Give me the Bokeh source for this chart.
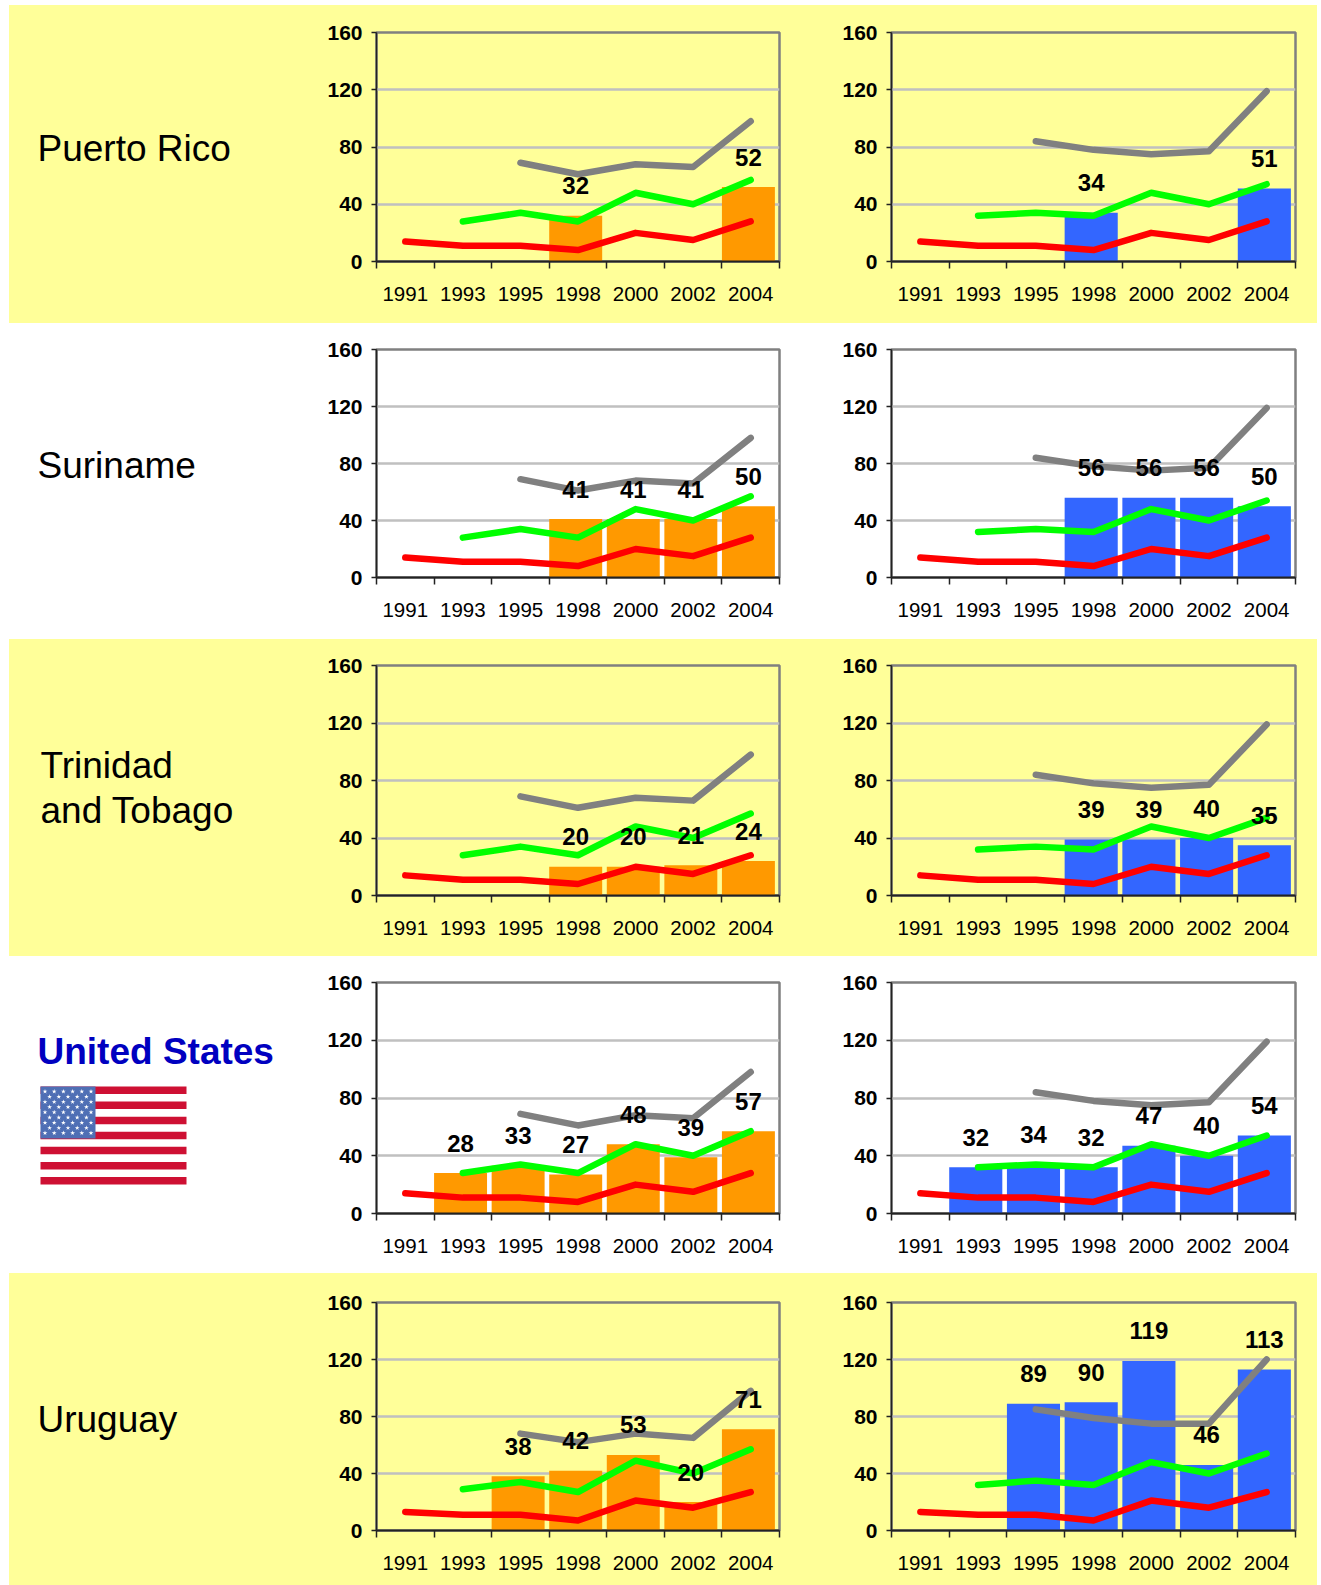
from bokeh.plotting import figure
from bokeh.layouts import column, row
from bokeh.models import Range1d, FixedTicker
from bokeh.core.properties import value
from bokeh.embed import file_html
from bokeh.resources import INLINE

years = ["1991", "1993", "1995", "1998", "2000", "2002", "2004"]
countries = ["Puerto Rico", "Suriname", "Trinidad\nand Tobago", "United States", "Uruguay"]

left_bars = [
    [None, None, None, 32, None, None, 52],
    [None, None, None, 41, 41, 41, 50],
    [None, None, None, 20, 20, 21, 24],
    [None, 28, 33, 27, 48, 39, 57],
    [None, None, 38, 42, 53, 20, 71],
]
right_bars = [
    [None, None, None, 34, None, None, 51],
    [None, None, None, 56, 56, 56, 50],
    [None, None, None, 39, 39, 40, 35],
    [None, 32, 34, 32, 47, 40, 54],
    [None, None, 89, 90, 119, 46, 113],
]

red = [14, 11, 11, 8, 20, 15, 28]
green_l = [None, 28, 34, 28, 48, 40, 57]
gray_l = [None, None, 69, 61, 68, 66, 98]
green_r = [None, 32, 34, 32, 48, 40, 54]
gray_r = [None, None, 84, 78, 75, 77, 119]

red_u = [13, 11, 11, 7, 21, 16, 27]
green_lu = [None, 29, 34, 27, 49, 40, 57]
gray_lu = [None, None, 68, 62, 68, 65, 98]
green_ru = [None, 32, 35, 32, 48, 40, 54]
gray_ru = [None, None, 85, 79, 75, 75, 120]

YELLOW = "#FFFF99"
band_edges = [5, 323, 639, 956, 1273, 1585]
frame_tops = [32, 349, 665, 982, 1302]
frame_bots = [261, 577, 895, 1213, 1530]
band_fill = [YELLOW, "white", YELLOW, "white", YELLOW]
LEFT0, SPLIT1, SPLIT2, RIGHT_END = 9, 300, 800, 1317
A_L, A_R = 376, 779
B_L, B_R = 891, 1295
FONT = "Liberation Sans"


def chart(i, x0, x1, fl, fr, bars, series, bar_color):
    top, bot = band_edges[i], band_edges[i + 1]
    p = figure(
        width=x1 - x0, height=bot - top, output_backend="svg", toolbar_location=None,
        x_range=Range1d(0, len(years)), y_range=Range1d(0, 160),
        min_border_left=fl - x0, min_border_right=x1 - fr,
        min_border_top=frame_tops[i] - top, min_border_bottom=bot - frame_bots[i],
        background_fill_alpha=0, border_fill_alpha=0,
        outline_line_color="#808080", outline_line_width=2.5,
    )
    xa, ya = p.xaxis[0], p.yaxis[0]
    centers = [k + 0.5 for k in range(len(years))]
    xa.ticker = FixedTicker(ticks=centers, minor_ticks=list(range(len(years) + 1)))
    xa.major_label_overrides = dict(zip(centers, years))
    xa.major_tick_out = 0
    xa.major_tick_in = 0
    xa.minor_tick_out = 7
    xa.minor_tick_in = 0
    xa.minor_tick_line_color = "#222222"
    xa.minor_tick_line_width = 1.5
    xa.major_label_standoff = 18
    xa.major_label_text_font = FONT
    xa.major_label_text_font_size = "20.5px"
    xa.major_label_text_color = "black"
    xa.axis_line_color = "#222222"
    xa.axis_line_width = 2

    ya.ticker = FixedTicker(ticks=[0, 40, 80, 120, 160], minor_ticks=[])
    ya.major_tick_out = 5
    ya.major_tick_in = 0
    ya.major_tick_line_color = "#222222"
    ya.major_tick_line_width = 1.5
    ya.major_label_standoff = 9
    ya.major_label_text_font = FONT
    ya.major_label_text_font_style = "bold"
    ya.major_label_text_font_size = "21px"
    ya.major_label_text_color = "black"
    ya.axis_line_color = "#222222"
    ya.axis_line_width = 1.5

    p.xgrid.visible = False
    p.ygrid.ticker = FixedTicker(ticks=[40, 80, 120])
    p.ygrid.grid_line_color = "#C0C0C0"
    p.ygrid.grid_line_width = 2.5

    bx = [k + 0.46 for k, v in enumerate(bars) if v is not None]
    bv = [v for v in bars if v is not None]
    p.vbar(x=bx, top=bv, bottom=0, width=0.92, fill_color=bar_color, line_color=None)

    for vals, col in series:
        lx = [k + 0.5 for k, v in enumerate(vals) if v is not None]
        ly = [v for v in vals if v is not None]
        p.line(lx, ly, line_color=col, line_width=6.5, line_cap="round", line_join="round")

    p.text(x=bx, y=bv, text=[str(v) for v in bv], y_offset=-30, text_align="center",
           text_baseline="middle", text_font=value(FONT), text_font_style="bold",
           text_font_size="24px", text_color="black")
    return p


def label_panel(i):
    # The row aligns this panel's frame with its neighbours, so it shares their borders.
    top, bot = band_edges[i], band_edges[i + 1]
    p = figure(
        width=SPLIT1 - LEFT0, height=bot - top, output_backend="svg", toolbar_location=None,
        x_range=Range1d(LEFT0, SPLIT1), y_range=Range1d(frame_bots[i], frame_tops[i]),
        x_axis_location=None, y_axis_location=None,
        min_border_left=0, min_border_right=0,
        min_border_top=frame_tops[i] - top, min_border_bottom=bot - frame_bots[i],
        background_fill_alpha=0, border_fill_alpha=0,
        outline_line_color=None,
    )
    p.grid.visible = False
    return p


def add_name(p, lines, x, ys, color="black", style="normal"):
    p.text(x=[x] * len(lines), y=ys, text=lines, text_baseline="middle", text_align="left",
           text_font=value(FONT), text_font_size="37px", text_color=color, text_font_style=style)


def add_flag(p):
    fx0, fx1, fy0, fy1 = 40, 186, 1086, 1184
    cx1, cy1 = 95, 1138
    h = (fy1 - fy0) / 13
    p.quad(left=fx0, right=fx1, top=fy0, bottom=fy1, fill_color="white", line_color=None)
    for s in range(0, 13, 2):
        p.quad(left=fx0, right=fx1, top=fy0 + s * h, bottom=fy0 + (s + 1) * h,
               fill_color="#CE1033", line_color=None)
    p.quad(left=fx0, right=cx1, top=fy0, bottom=cy1, fill_color="#4F6FB5", line_color=None)
    sx, sy = [], []
    for r in range(9):
        n = 6 if r % 2 == 0 else 5
        for c in range(n):
            sx.append(fx0 + 4.5 + c * 9.2 + (0 if r % 2 == 0 else 4.6))
            sy.append(fy0 + 5 + r * 5.2)
    p.scatter(sx, sy, marker="star", size=5, fill_color="white", line_color=None)


rows = []
for i in range(5):
    lab = label_panel(i)
    if i == 2:
        add_name(lab, countries[i].split("\n"), 40, [765, 810])
    elif i == 3:
        add_name(lab, [countries[i]], 37, [1051], color="#0000C0", style="bold")
        add_flag(lab)
    else:
        add_name(lab, [countries[i]], 37, [[147.5], [465], [], [], [1419]][i])
    if i == 4:
        sl = [(gray_lu, "#808080"), (green_lu, "#00FF00"), (red_u, "#FF0000")]
        sr = [(gray_ru, "#808080"), (green_ru, "#00FF00"), (red_u, "#FF0000")]
    else:
        sl = [(gray_l, "#808080"), (green_l, "#00FF00"), (red, "#FF0000")]
        sr = [(gray_r, "#808080"), (green_r, "#00FF00"), (red, "#FF0000")]
    a = chart(i, SPLIT1, SPLIT2, A_L, A_R, left_bars[i], sl, "#FF9900")
    b = chart(i, SPLIT2, RIGHT_END, B_L, B_R, right_bars[i], sr, "#3366FF")
    rows.append(row(lab, a, b, spacing=0, styles={"background-color": band_fill[i]}))

page = column(*rows, spacing=0, margin=(5, 0, 0, 9))
open("out.html", "w").write(file_html(page, INLINE))
